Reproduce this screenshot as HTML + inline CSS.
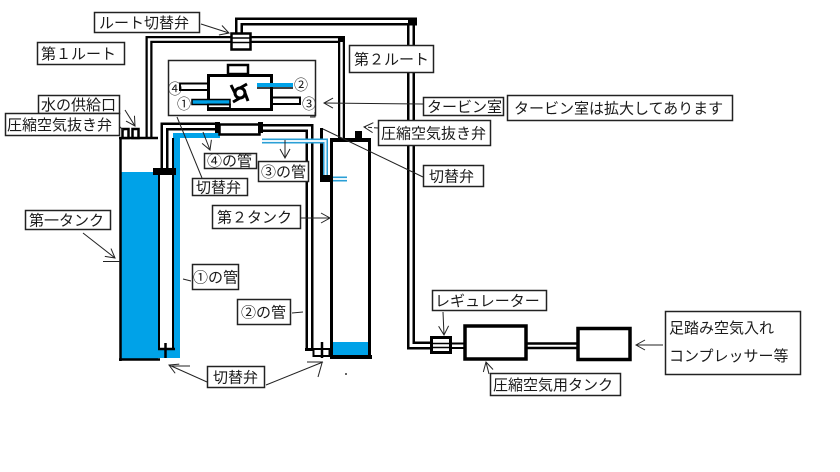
<!DOCTYPE html>
<html><head><meta charset="utf-8">
<style>
html,body{margin:0;padding:0;background:#fff;}
svg{display:block;}
text{font-family:"Liberation Sans","Noto Sans CJK JP",sans-serif;font-size:15px;fill:#1a1a1a;}
.s{font-size:14px;font-family:"Noto Sans CJK JP",sans-serif;}
</style></head><body>
<svg width="840" height="472" viewBox="0 0 840 472" xmlns="http://www.w3.org/2000/svg">
<defs>
<marker id="a" markerWidth="12" markerHeight="12" refX="10" refY="6" orient="auto" markerUnits="userSpaceOnUse">
<path d="M1,1 L10,6 L1,11" fill="none" stroke="#222" stroke-width="1"/>
</marker>
</defs>
<rect width="840" height="472" fill="#fff"/>

<!-- top pipe: route valve -> regulator -->
<path d="M239,33 V21.5 H411 V345.5 H431" stroke="#000" stroke-width="8" fill="none"/>
<path d="M239,33 V21.5 H411 V345.5 H431" stroke="#fff" stroke-width="3" fill="none"/>
<rect x="408" y="17.5" width="9" height="8" fill="#000"/>

<!-- route 1 / route 2 pipe -->
<path d="M149,137 V39.5 H341.5 V138" stroke="#000" stroke-width="7" fill="none"/>
<path d="M149,137 V39.5 H341.5 V138" stroke="#fff" stroke-width="2.5" fill="none"/>
<rect x="338" y="36" width="7" height="6" fill="#000"/>

<!-- route switch valve -->
<rect x="231.5" y="33.5" width="19" height="16" fill="#fff" stroke="#000" stroke-width="2.5"/>
<line x1="231" y1="38" x2="251" y2="38" stroke="#000" stroke-width="1.5"/>
<line x1="231" y1="42.5" x2="251" y2="42.5" stroke="#000" stroke-width="1.5"/>

<!-- turbine room (enlarged) -->
<rect x="168.5" y="60.5" width="147" height="55" fill="#fff" stroke="#222" stroke-width="1.5"/>
<path d="M315,112 V117 H310" fill="none" stroke="#222" stroke-width="1"/>
<rect x="228" y="65" width="20" height="9" fill="#fff" stroke="#000" stroke-width="2.5"/>
<rect x="208.5" y="75.5" width="63" height="34" fill="#fff" stroke="#000" stroke-width="3"/>
<rect x="180" y="83.5" width="28" height="6.5" fill="#fff" stroke="#000" stroke-width="2"/>
<rect x="192" y="99.5" width="38" height="5" fill="#00a2e8" stroke="#000" stroke-width="1.5"/>
<rect x="208" y="104.5" width="22" height="3.5" fill="#fff" stroke="#000" stroke-width="1.8"/>
<rect x="257" y="83" width="36" height="4" fill="#00a2e8"/>
<line x1="257" y1="88" x2="293" y2="88" stroke="#000" stroke-width="1.5"/>
<rect x="272" y="97.5" width="28" height="6.5" fill="#fff" stroke="#000" stroke-width="2"/>
<!-- rotor -->
<circle cx="240" cy="93" r="5" fill="none" stroke="#000" stroke-width="3"/>
<path d="M240,88 L247,84 M245,93 L248,101 M240,98 L233,102 M235,93 L231,85" stroke="#000" stroke-width="3" fill="none"/>
<text class="s" x="168" y="94">④</text>
<text class="s" x="177" y="109">①</text>
<text class="s" x="294" y="90">②</text>
<text class="s" x="302" y="109">③</text>

<!-- tank 1 -->
<rect x="121" y="172" width="37" height="187" fill="#00a2e8"/>
<rect x="173.5" y="133" width="6.5" height="225" fill="#00a2e8"/>
<rect x="158" y="349" width="22" height="9" fill="#00a2e8"/>
<rect x="173" y="133" width="47" height="5" fill="#00a2e8"/>
<line x1="120.5" y1="137" x2="120.5" y2="361" stroke="#000" stroke-width="2.5"/>
<line x1="119" y1="138" x2="158" y2="138" stroke="#000" stroke-width="2.5"/>
<line x1="119" y1="359.5" x2="160" y2="359.5" stroke="#000" stroke-width="2.5"/>
<line x1="159" y1="172" x2="159" y2="350" stroke="#000" stroke-width="2"/>
<line x1="173" y1="138" x2="173" y2="350" stroke="#000" stroke-width="2"/>
<line x1="158" y1="349" x2="175" y2="349" stroke="#000" stroke-width="2.5"/>
<line x1="165.5" y1="343" x2="165.5" y2="358" stroke="#000" stroke-width="2.5"/>
<!-- tank 1 top valves -->
<rect x="122.5" y="129" width="6" height="9" fill="#fff" stroke="#000" stroke-width="2.5"/>
<rect x="132.5" y="129" width="6" height="9" fill="#fff" stroke="#000" stroke-width="2.5"/>
<!-- pipe 4 -->
<path d="M164.5,172 V126.5 H218" stroke="#000" stroke-width="8" fill="none"/>
<path d="M164.5,172 V126.5 H218" stroke="#fff" stroke-width="3" fill="none"/>
<rect x="153" y="168" width="23" height="7" fill="#000"/>
<rect x="215" y="122" width="5" height="11" fill="#000"/>
<rect x="219.5" y="124.5" width="40" height="10" fill="#fff" stroke="#000" stroke-width="2.5"/>

<!-- pipe 3 / pipe 2 -->
<path d="M260,128 H309.5 V349" stroke="#000" stroke-width="8" fill="none"/>
<path d="M260,128 H309.5 V349" stroke="#fff" stroke-width="3" fill="none"/>
<rect x="258" y="122" width="5" height="11" fill="#000"/>
<line x1="305" y1="349.5" x2="314" y2="349.5" stroke="#000" stroke-width="3"/>
<rect x="313.5" y="349" width="16" height="7" fill="#fff" stroke="#000" stroke-width="2"/>
<line x1="322" y1="342" x2="322" y2="358" stroke="#000" stroke-width="2.5"/>
<line x1="321.5" y1="128" x2="321.5" y2="182" stroke="#000" stroke-width="3"/>
<path d="M262,141 H325.5 V179 H347" stroke="#2a9fd6" stroke-width="5" fill="none"/>
<path d="M262,141 H325.5 V179 H347" stroke="#eaf6fc" stroke-width="2" fill="none"/>
<rect x="322" y="175" width="8" height="7" fill="#000"/>

<!-- tank 2 -->
<rect x="333" y="342" width="35" height="13" fill="#00a2e8"/>
<rect x="331.5" y="140" width="38" height="217" fill="none" stroke="#000" stroke-width="3"/>
<line x1="330" y1="140" x2="371" y2="140" stroke="#000" stroke-width="4"/>
<line x1="330" y1="357" x2="372" y2="357" stroke="#000" stroke-width="4"/>
<rect x="355" y="131" width="7" height="9" fill="#000"/>

<!-- regulator, tank, compressor -->
<line x1="451" y1="343.5" x2="464" y2="343.5" stroke="#000" stroke-width="2"/>
<line x1="451" y1="348" x2="464" y2="348" stroke="#000" stroke-width="2"/>
<line x1="527" y1="343.5" x2="577" y2="343.5" stroke="#000" stroke-width="2.5"/>
<line x1="527" y1="348" x2="577" y2="348" stroke="#000" stroke-width="2.5"/>
<rect x="431.5" y="337.5" width="19" height="15" fill="#fff" stroke="#000" stroke-width="3"/>
<line x1="431" y1="343.5" x2="451" y2="343.5" stroke="#000" stroke-width="1.5"/>
<line x1="431" y1="347.5" x2="451" y2="347.5" stroke="#000" stroke-width="1.5"/>
<rect x="465" y="326" width="61" height="33" fill="#fff" stroke="#000" stroke-width="3.5"/>
<rect x="578" y="328.5" width="52" height="31" fill="#fff" stroke="#000" stroke-width="3.5"/>

<!-- arrows / leaders -->
<g stroke="#222" stroke-width="1" fill="none">
<line x1="201" y1="24" x2="229" y2="33" marker-end="url(#a)"/>
<line x1="125" y1="110" x2="135" y2="126" marker-end="url(#a)"/>
<line x1="119" y1="126" x2="124" y2="131"/>
<line x1="423" y1="104" x2="324" y2="103" marker-end="url(#a)"/>
<line x1="378" y1="128" x2="364" y2="127" stroke-dasharray="4,2" marker-end="url(#a)"/>
<line x1="323" y1="129" x2="423" y2="177"/>
<line x1="177" y1="117" x2="202" y2="178"/>
<line x1="203" y1="132" x2="210" y2="150" marker-end="url(#a)"/>
<line x1="285" y1="140" x2="285" y2="158" marker-end="url(#a)"/>
<line x1="300" y1="218" x2="330" y2="218" marker-end="url(#a)"/>
<line x1="83" y1="233" x2="115" y2="258" marker-end="url(#a)"/>
<line x1="103" y1="261.5" x2="120" y2="261.5"/>
<line x1="183" y1="279" x2="191" y2="281"/>
<line x1="292" y1="313" x2="303" y2="312"/>
<line x1="207" y1="382" x2="169" y2="365" marker-end="url(#a)"/>
<line x1="172" y1="366" x2="190" y2="366"/>
<line x1="266" y1="385" x2="323" y2="362"/>
<line x1="307" y1="362" x2="323" y2="362"/>
<line x1="318" y1="377" x2="322" y2="363"/>
<line x1="443" y1="312" x2="444" y2="335" marker-end="url(#a)"/>
<line x1="489" y1="374" x2="486" y2="362" marker-end="url(#a)"/>
<line x1="663" y1="345" x2="636" y2="345" marker-end="url(#a)"/>
</g>
<circle cx="346" cy="374" r="1" fill="#333"/>

<!-- labels -->
<g fill="#fff" stroke="#222" stroke-width="1.5">
<rect x="94.5" y="12.5" width="105" height="20"/>
<rect x="37.5" y="42.5" width="87" height="22"/>
<rect x="38.5" y="95.5" width="81" height="18"/>
<rect x="5.5" y="113.5" width="114" height="22"/>
<rect x="349.5" y="45.5" width="84" height="27"/>
<rect x="423.5" y="97.5" width="80" height="18"/>
<rect x="507.5" y="95.5" width="225" height="25"/>
<rect x="378.5" y="120.5" width="112" height="25"/>
<rect x="204.5" y="153.5" width="52" height="15"/>
<rect x="258.5" y="161.5" width="50" height="20"/>
<rect x="192.5" y="178.5" width="55" height="17"/>
<rect x="212.5" y="205.5" width="88" height="23"/>
<rect x="423.5" y="165.5" width="60" height="21"/>
<rect x="25.5" y="210.5" width="85" height="19"/>
<rect x="192.5" y="264.5" width="46" height="25"/>
<rect x="237.5" y="299.5" width="53" height="25"/>
<rect x="207.5" y="366.5" width="57" height="21"/>
<rect x="432.5" y="290.5" width="114" height="20"/>
<rect x="490.5" y="373.5" width="130" height="22"/>
<rect x="665.5" y="311.5" width="135" height="63"/>
</g>
<text x="99" y="28">ルート切替弁</text>
<text x="41" y="59">第１ルート</text>
<text x="41" y="110">水の供給口</text>
<text x="7" y="130">圧縮空気抜き弁</text>
<text x="354" y="64.5">第２ルート</text>
<text x="427" y="112">タービン室</text>
<text x="514" y="113.5">タービン室は拡大してあります</text>
<text x="381" y="138.5">圧縮空気抜き弁</text>
<text x="207" y="166">④の管</text>
<text x="261" y="177">③の管</text>
<text x="196" y="192.5">切替弁</text>
<text x="217" y="222.5">第２タンク</text>
<text x="429" y="181.5">切替弁</text>
<text x="29" y="225.5">第一タンク</text>
<text x="193" y="282.5">①の管</text>
<text x="241" y="317.5">②の管</text>
<text x="213" y="382.5">切替弁</text>
<text x="435" y="306">レギュレーター</text>
<text x="493" y="390">圧縮空気用タンク</text>
<text x="669" y="333">足踏み空気入れ</text>
<text x="669" y="361">コンプレッサー等</text>
</svg>
</body></html>
